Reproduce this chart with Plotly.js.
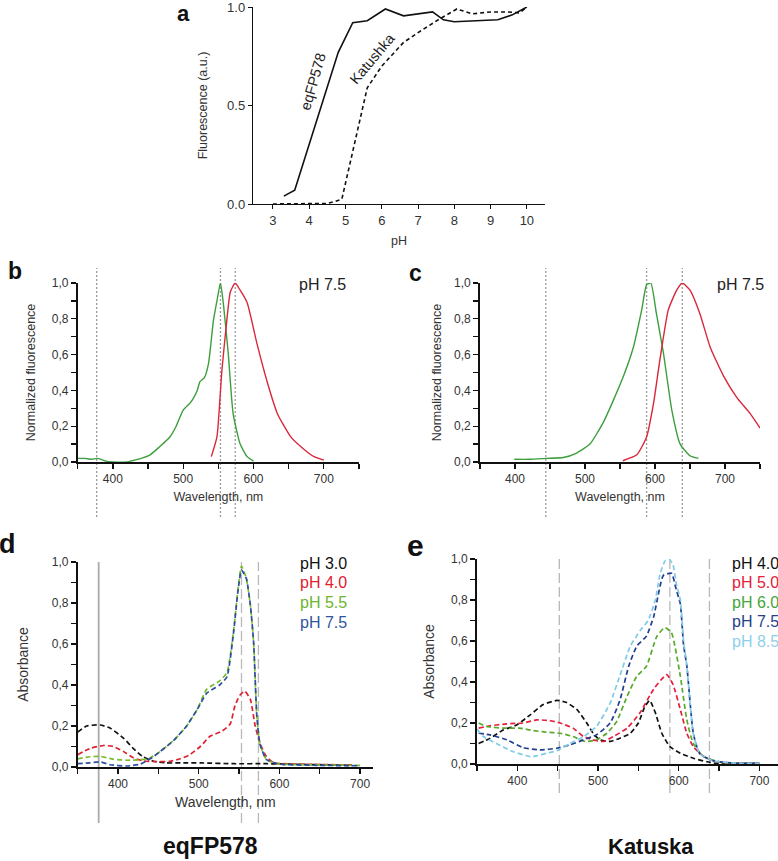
<!DOCTYPE html>
<html>
<head>
<meta charset="utf-8">
<script src="https://cdn.plot.ly/plotly-3.0.1.min.js"></script>
<style>html,body{margin:0;padding:0;background:#fff;}#chart{width:778px;height:861px;}</style>
</head>
<body>
<div id="chart"></div>
<script>
// ---------- Panel a: pH dependence ----------
const phEq  = [3.3, 3.6, 4.8, 5.2, 5.6, 6.1, 6.6, 7.4, 7.7, 8.0, 9.2, 9.6, 10.0];
const fluEq = [0.04, 0.07, 0.77, 0.92, 0.93, 0.99, 0.955, 0.975, 0.935, 0.925, 0.935, 0.96, 1.0];
const phKat  = [3.0, 4.0, 4.5, 4.7, 4.9, 5.6, 6.0, 6.6, 7.0, 7.6, 8.07, 8.5, 9.0, 9.45, 9.8, 10.0];
const fluKat = [0.0, 0.0, 0.003, 0.012, 0.025, 0.59, 0.7, 0.82, 0.87, 0.94, 0.99, 0.965, 0.975, 0.975, 0.97, 1.0];
const phTicks = [3, 4, 5, 6, 7, 8, 9, 10];

// ---------- Panel b: eqFP578 fluorescence ----------
const bExWl  = [350, 360, 370, 378, 385, 390, 400, 420, 430, 440, 453, 465, 481, 490, 500, 510, 515, 520, 524, 530, 536, 543, 548, 553, 557, 564, 571, 581, 591, 600];
const bExVal = [0.02, 0.02, 0.015, 0.02, 0.012, 0.005, 0.0, 0.0, 0.01, 0.02, 0.04, 0.08, 0.14, 0.2, 0.29, 0.33, 0.36, 0.40, 0.45, 0.47, 0.55, 0.79, 0.9, 1.0, 0.89, 0.61, 0.27, 0.1, 0.03, 0.005];
const bEmWl  = [540, 548, 555, 562, 567, 574, 581, 591, 605, 620, 634, 653, 672, 686, 700];
const bEmVal = [0.03, 0.14, 0.51, 0.79, 0.95, 1.0, 0.96, 0.89, 0.66, 0.44, 0.27, 0.14, 0.07, 0.03, 0.01];
const bRefWl = [377, 553, 574];

// ---------- Panel c: Katushka fluorescence ----------
const cExWl  = [399, 420, 445, 469, 488, 507, 526, 540, 555, 569, 581, 588, 594, 602, 612, 624, 636, 650, 662];
const cExVal = [0.015, 0.015, 0.02, 0.025, 0.05, 0.1, 0.22, 0.34, 0.48, 0.64, 0.85, 0.99, 1.0, 0.83, 0.61, 0.29, 0.1, 0.035, 0.02];
const cEmWl  = [554, 574, 588, 598, 607, 619, 631, 639, 650, 664, 679, 698, 717, 736, 750];
const cEmVal = [0.007, 0.04, 0.14, 0.33, 0.57, 0.85, 0.96, 1.0, 0.96, 0.83, 0.64, 0.48, 0.36, 0.27, 0.19];
const cRefWl = [444, 588, 639];

// ---------- Panel d: eqFP578 absorbance ----------
const dWl30  = [350, 361, 378, 390, 407, 419, 431, 444, 460, 481, 502, 543, 584, 626, 690];
const dAb30  = [0.17, 0.2, 0.205, 0.19, 0.14, 0.09, 0.05, 0.028, 0.02, 0.02, 0.02, 0.016, 0.016, 0.013, 0.008];
const dWl40  = [350, 365, 382, 394, 407, 419, 431, 448, 464, 477, 489, 502, 514, 529, 539, 545, 551, 557, 564, 570, 576, 584, 593, 605, 650, 690];
const dAb40  = [0.06, 0.09, 0.105, 0.1, 0.075, 0.045, 0.03, 0.026, 0.028, 0.04, 0.06, 0.1, 0.15, 0.175, 0.21, 0.3, 0.35, 0.37, 0.33, 0.2, 0.115, 0.05, 0.02, 0.016, 0.012, 0.01];
const dWl55  = [350, 365, 378, 394, 411, 427, 440, 452, 469, 485, 498, 510, 526, 535, 543, 549, 553, 559, 564, 568, 572, 576, 584, 597, 605, 650, 700];
const dAb55  = [0.04, 0.05, 0.052, 0.038, 0.033, 0.035, 0.045, 0.075, 0.13, 0.2, 0.28, 0.38, 0.42, 0.46, 0.66, 0.88, 0.98, 0.92, 0.79, 0.61, 0.25, 0.11, 0.036, 0.016, 0.013, 0.01, 0.008];
const dWl75  = [350, 365, 378, 390, 411, 427, 440, 452, 469, 485, 498, 510, 526, 535, 543, 549, 553, 559, 564, 568, 572, 576, 584, 597, 605, 650, 700];
const dAb75  = [0.016, 0.02, 0.025, 0.011, 0.005, 0.013, 0.04, 0.075, 0.13, 0.2, 0.28, 0.36, 0.40, 0.44, 0.65, 0.87, 0.96, 0.92, 0.79, 0.61, 0.25, 0.11, 0.036, 0.016, 0.012, 0.008, 0.006];
const dSolidRefWl = [376];
const dDashRefWl  = [553, 574];
const dLabels = ['pH 3.0', 'pH 4.0', 'pH 5.5', 'pH 7.5'];

// ---------- Panel e: Katushka absorbance ----------
const eWl40 = [352, 366, 383, 399, 416, 432, 449, 461, 474, 486, 494, 502, 515, 527, 540, 550, 558, 564, 571, 579, 589, 602, 618, 635, 647, 700];
const eAb40 = [0.1, 0.125, 0.167, 0.19, 0.24, 0.29, 0.31, 0.30, 0.265, 0.2, 0.15, 0.118, 0.11, 0.126, 0.15, 0.2, 0.28, 0.31, 0.25, 0.15, 0.085, 0.052, 0.028, 0.011, 0.003, 0.003];
const eWl50 = [352, 366, 387, 407, 424, 440, 453, 469, 482, 494, 507, 519, 536, 552, 569, 585, 593, 602, 610, 618, 631, 647, 672, 697];
const eAb50 = [0.175, 0.186, 0.196, 0.2, 0.215, 0.212, 0.2, 0.175, 0.134, 0.118, 0.11, 0.134, 0.175, 0.25, 0.366, 0.436, 0.387, 0.265, 0.15, 0.085, 0.036, 0.011, 0.003, 0.003];
const eWl60 = [352, 362, 383, 403, 420, 436, 453, 469, 484, 498, 511, 523, 536, 548, 560, 573, 583, 591, 602, 610, 618, 631, 655, 700];
const eAb60 = [0.2, 0.183, 0.175, 0.175, 0.163, 0.155, 0.15, 0.134, 0.11, 0.118, 0.15, 0.207, 0.33, 0.428, 0.477, 0.624, 0.665, 0.64, 0.428, 0.216, 0.1, 0.036, 0.006, 0.003];
const eWl75 = [352, 366, 387, 407, 428, 449, 465, 482, 498, 515, 527, 538, 548, 560, 569, 581, 591, 597, 602, 606, 610, 618, 626, 643, 676, 700];
const eAb75 = [0.15, 0.142, 0.118, 0.08, 0.069, 0.077, 0.093, 0.118, 0.142, 0.2, 0.31, 0.477, 0.575, 0.624, 0.72, 0.92, 0.93, 0.85, 0.78, 0.58, 0.48, 0.15, 0.05, 0.015, 0.003, 0.003];
const eWl85 = [350, 358, 374, 395, 416, 424, 436, 449, 465, 482, 498, 515, 527, 540, 552, 562, 571, 577, 583, 588, 593, 597, 602, 606, 610, 618, 626, 643, 676, 700];
const eAb85 = [0.17, 0.134, 0.1, 0.06, 0.036, 0.04, 0.052, 0.065, 0.1, 0.134, 0.183, 0.297, 0.43, 0.575, 0.65, 0.7, 0.8, 0.93, 0.99, 1.0, 0.97, 0.88, 0.8, 0.6, 0.48, 0.15, 0.05, 0.015, 0.003, 0.003];
const eRefWl = [452, 589, 638];
const eLabels = ['pH 4.0', 'pH 5.0', 'pH 6.0', 'pH 7.5', 'pH 8.5'];

const wlTicks = [350, 400, 450, 500, 550, 600, 650, 700, 750];
const wlTickText = ['', '400', '', '500', '', '600', '', '700', ''];
const yTicks = [0, 0.1, 0.2, 0.3, 0.4, 0.5, 0.6, 0.7, 0.8, 0.9, 1.0];
const yTickText = ['0,0', '', '0,2', '', '0,4', '', '0,6', '', '0,8', '', '1,0'];

// ---------- helpers ----------
const W = 778, H = 861;
const FONT = 'Liberation Sans, Arial, Helvetica, sans-serif';
const px = v => v / W;
const py = v => 1 - v / H;

const cGreenF = '#3c9e3c', cRedF = '#d9273b';
const dCols = ['#111111', '#e0202e', '#79bb2a', '#2c4f9e'];
const dTextCols = ['#111111', '#e0202e', '#6cb52c', '#2f55a0'];
const eCols = ['#111111', '#e4203a', '#58aa2c', '#213f8c', '#80cbe6'];
const eTextCols = ['#111111', '#e4203a', '#43a63a', '#253f8c', '#8fd0e8'];

function line(x, y, xa, ya, color, dash, width, smooth) {
  const ln = {color: color, width: width || 1.6, dash: dash || 'solid'};
  if (smooth) { ln.shape = 'spline'; ln.smoothing = smooth; }
  return {x: x, y: y, xaxis: xa, yaxis: ya, type: 'scatter', mode: 'lines',
          line: ln, showlegend: false, hoverinfo: 'skip'};
}

const ABS_DASH = '5px,3px';
const SM = 0.5;
const data = [
  line(phEq, fluEq, 'x', 'y', '#111', 'solid', 1.6),
  line(phKat, fluKat, 'x', 'y', '#111', '4px,3px', 1.6),
  line(bExWl, bExVal, 'x2', 'y2', cGreenF, 'solid', 1.4, SM),
  line(bEmWl, bEmVal, 'x2', 'y2', cRedF, 'solid', 1.4, SM),
  line(cExWl, cExVal, 'x3', 'y3', cGreenF, 'solid', 1.4, SM),
  line(cEmWl, cEmVal, 'x3', 'y3', cRedF, 'solid', 1.4, SM),
  line(dWl30, dAb30, 'x4', 'y4', dCols[0], ABS_DASH, 1.7, SM),
  line(dWl40, dAb40, 'x4', 'y4', dCols[1], ABS_DASH, 1.7, SM),
  line(dWl55, dAb55, 'x4', 'y4', dCols[2], ABS_DASH, 1.7, SM),
  line(dWl75, dAb75, 'x4', 'y4', dCols[3], ABS_DASH, 1.7, SM),
  line(eWl40, eAb40, 'x5', 'y5', eCols[0], ABS_DASH, 1.7, SM),
  line(eWl50, eAb50, 'x5', 'y5', eCols[1], ABS_DASH, 1.7, SM),
  line(eWl60, eAb60, 'x5', 'y5', eCols[2], ABS_DASH, 1.7, SM),
  line(eWl75, eAb75, 'x5', 'y5', eCols[3], ABS_DASH, 1.7, SM),
  line(eWl85, eAb85, 'x5', 'y5', eCols[4], ABS_DASH, 1.7, SM)
];

function wlAxis(d0, d1, range, anchor, titleSize, standoff) {
  return {domain: [px(d0), px(d1)], range: range, anchor: anchor,
    tickmode: 'array', tickvals: wlTicks, ticktext: wlTickText,
    ticks: 'outside', ticklen: 5, tickwidth: 1.3, tickcolor: '#111',
    showline: true, linecolor: '#111', linewidth: 1.8, showgrid: false, zeroline: false,
    tickfont: {family: FONT, size: 12, color: '#333'}, ticklabeloverflow: 'allow',
    title: {text: 'Wavelength, nm', font: {family: FONT, size: titleSize, color: '#333'}, standoff: standoff},
    automargin: false, fixedrange: true};
}
function fracAxis(d0, d1, anchor, title, titleSize, standoff) {
  return {domain: [py(d1), py(d0)], range: [0, 1], anchor: anchor,
    tickmode: 'array', tickvals: yTicks, ticktext: yTickText,
    ticks: 'outside', ticklen: 5, tickwidth: 1.3, tickcolor: '#111',
    showline: true, linecolor: '#111', linewidth: 1.8, showgrid: false, zeroline: false,
    tickfont: {family: FONT, size: 12, color: '#333'}, ticklabeloverflow: 'allow',
    title: {text: title, font: {family: FONT, size: titleSize, color: '#333'}, standoff: standoff},
    automargin: false, fixedrange: true};
}

const layout = {
  width: W, height: H,
  margin: {l: 0, r: 0, t: 0, b: 0, pad: 0},
  paper_bgcolor: '#ffffff', plot_bgcolor: 'rgba(0,0,0,0)',
  font: {family: FONT, color: '#333'},
  showlegend: false,
  xaxis: {domain: [px(253), px(545)], range: [2.45, 10.5], anchor: 'y',
    tickmode: 'array', tickvals: phTicks, ticks: 'outside', ticklen: 4, tickwidth: 1, tickcolor: '#111',
    showline: true, linecolor: '#111', linewidth: 1.2, showgrid: false, zeroline: false,
    tickfont: {family: FONT, size: 13, color: '#333'}, ticklabeloverflow: 'allow',
    title: {text: 'pH', font: {family: FONT, size: 12.5, color: '#333'}, standoff: 9},
    automargin: false, fixedrange: true},
  yaxis: {domain: [py(204), py(7)], range: [0, 1], anchor: 'x',
    tickmode: 'array', tickvals: [0, 0.5, 1], ticktext: ['0.0', '0.5', '1.0'],
    ticks: 'outside', ticklen: 4, tickwidth: 1, tickcolor: '#111',
    showline: true, linecolor: '#111', linewidth: 1.2, showgrid: false, zeroline: false,
    tickfont: {family: FONT, size: 13, color: '#333'}, ticklabeloverflow: 'allow',
    title: {text: 'Fluorescence (a.u.)', font: {family: FONT, size: 12.5, color: '#333'}, standoff: 16},
    automargin: false, fixedrange: true},
  xaxis2: wlAxis(77.7, 359, [350, 750], 'y2', 12.5, 7),
  yaxis2: fracAxis(283, 462, 'x2', 'Normalized fluorescence', 12.5, 13),
  xaxis3: wlAxis(480, 760, [350, 750], 'y3', 12.5, 7),
  yaxis3: fracAxis(283, 462, 'x3', 'Normalized fluorescence', 12.5, 10),
  xaxis4: wlAxis(77.7, 373, [350, 716], 'y4', 14, 7),
  yaxis4: fracAxis(562, 767, 'x4', 'Absorbance', 14, 20),
  xaxis5: wlAxis(477, 778, [350, 723], 'y5', 14, 7),
  yaxis5: fracAxis(559, 764, 'x5', 'Absorbance', 14, 13),
  shapes: [], annotations: []
};
// Panel e has no x axis title in the reference
layout.xaxis5.title = {text: ''};

function vline(xa, wl, top, bottom, color, width, dash) {
  layout.shapes.push({type: 'line', xref: xa, yref: 'paper', x0: wl, x1: wl,
    y0: py(bottom), y1: py(top), layer: 'below', line: {color: color, width: width, dash: dash}});
}
bRefWl.forEach(w => vline('x2', w, 268, 517, '#9a9a9a', 1.3, '2px,2px'));
cRefWl.forEach(w => vline('x3', w, 268, 517, '#9a9a9a', 1.3, '2px,2px'));
dSolidRefWl.forEach(w => vline('x4', w, 562, 823, '#aaaaaa', 1.8, 'solid'));
dDashRefWl.forEach(w => vline('x4', w, 562, 823, '#b8b8b8', 1.3, '10px,4px'));
eRefWl.forEach(w => vline('x5', w, 558, 793, '#b8b8b8', 1.3, '10px,4px'));

function ann(text, x, y, size, color, opts) {
  layout.annotations.push(Object.assign({text: text, xref: 'paper', yref: 'paper',
    x: px(x), y: py(y), showarrow: false, xanchor: 'center', yanchor: 'middle',
    font: {family: FONT, size: size, color: color}}, opts || {}));
}
// panel letters
ann('<b>a</b>', 183, 0, 22, '#111', {yanchor: 'top', borderpad: 0});
ann('<b>b</b>', 15, 271, 23, '#111');
ann('<b>c</b>', 416, 273, 23, '#111');
ann('<b>d</b>', 8, 544, 27, '#111');
ann('<b>e</b>', 415, 545, 30, '#111');
// curve labels in panel a
ann('eqFP578', 313, 82, 14.5, '#222', {textangle: -74});
ann('Katushka', 372, 59, 14.5, '#222', {textangle: -50});
// pH 7.5 labels
ann('pH 7.5', 297, 285, 16, '#222', {xanchor: 'left'});
ann('pH 7.5', 715, 285, 16, '#222', {xanchor: 'left'});
// legends d and e
dLabels.forEach((t, i) => ann(t, 298, 563 + i * 19.7, 16, dTextCols[i], {xanchor: 'left'}));
eLabels.forEach((t, i) => ann(t, 730, 563 + i * 19.5, 16, eTextCols[i], {xanchor: 'left'}));
// bottom titles
ann('<b>eqFP578</b>', 210, 846, 23, '#111');
ann('<b>Katuska</b>', 651, 846, 22, '#111');

Plotly.newPlot('chart', data, layout, {staticPlot: true, displayModeBar: false});
</script>
</body>
</html>
